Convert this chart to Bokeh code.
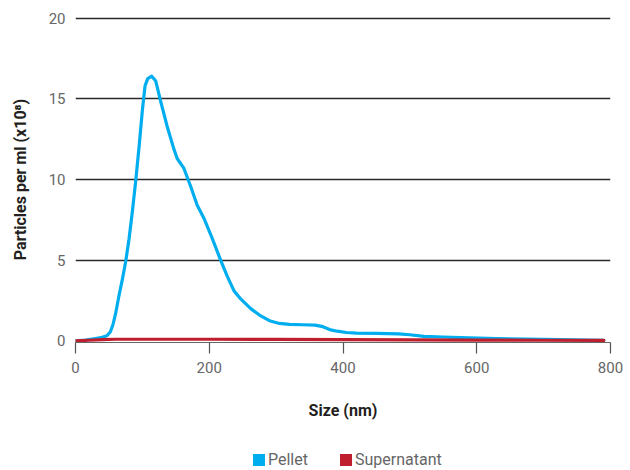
from bokeh.plotting import figure
from bokeh.layouts import column
from bokeh.models import Range1d, FixedTicker, Legend, LegendItem
from bokeh.embed import file_html
from bokeh.resources import INLINE

# ---- data ----
size_pellet = [0, 15, 30, 40, 47, 52, 56, 60, 65, 70, 75, 80, 85, 90, 95, 100, 104, 108,
               114, 120, 127, 137, 147, 152, 162, 172, 182, 192, 204, 217, 227, 237, 247,
               262, 275, 290, 305, 320, 340, 358, 370, 380, 391, 405, 420, 450, 483, 500,
               521, 550, 576, 630, 700, 790]
pellet = [0, 0.05, 0.15, 0.22, 0.32, 0.55, 1.0, 1.7, 2.8, 3.8, 4.9, 6.3, 8.0, 9.9, 12.0,
          14.3, 15.8, 16.25, 16.4, 16.1, 14.9, 13.3, 11.9, 11.3, 10.7, 9.6, 8.4, 7.6, 6.4,
          5.0, 4.0, 3.1, 2.6, 2.0, 1.6, 1.25, 1.08, 1.02, 1.0, 0.98, 0.88, 0.7, 0.6, 0.52,
          0.48, 0.46, 0.44, 0.38, 0.28, 0.24, 0.2, 0.14, 0.09, 0.04]
size_super = [0, 20, 40, 60, 100, 200, 300, 400, 500, 600, 700, 790]
supernatant = [0, 0.04, 0.08, 0.1, 0.1, 0.1, 0.09, 0.08, 0.06, 0.05, 0.04, 0.03]
x_ticks = [0, 200, 400, 600, 800]
y_ticks = [0, 5, 10, 15, 20]
series_names = ["Pellet", "Supernatant"]
series_colors = ["#00aeef", "#be1e2d"]

FONT = "Roboto"
NAN = float("nan")

p = figure(width=630, height=440, output_backend="svg", toolbar_location=None,
           x_range=Range1d(0, 800), y_range=Range1d(-0.1, 20.1),
           min_border_left=75, min_border_right=20, min_border_top=16,
           min_border_bottom=98)
p.outline_line_color = None
p.background_fill_color = "white"
p.border_fill_color = "white"

p.xgrid.visible = False
p.ygrid.ticker = FixedTicker(ticks=y_ticks[1:])
p.ygrid.grid_line_color = "#2b2b2b"
p.ygrid.grid_line_width = 1.4

# x axis
p.xaxis.ticker = FixedTicker(ticks=x_ticks)
p.xaxis.axis_label = "Size (nm)"
p.xaxis.axis_line_color = "#666666"
p.xaxis.axis_line_width = 1.2
p.xaxis.major_tick_line_color = "#555555"
p.xaxis.major_tick_line_width = 1.2
p.xaxis.major_tick_in = 0
p.xaxis.major_tick_out = 11
p.xaxis.minor_tick_line_color = None
p.xaxis.major_label_standoff = 8
p.xaxis.axis_label_standoff = 25

# y axis
p.yaxis.ticker = FixedTicker(ticks=y_ticks)
p.yaxis.axis_label = "Particles per ml (x10\u2078)"
p.yaxis.axis_line_color = None
p.yaxis.major_tick_line_color = None
p.yaxis.minor_tick_line_color = None
p.yaxis.major_tick_in = 0
p.yaxis.major_tick_out = 0
p.yaxis.major_label_standoff = 10
p.yaxis.axis_label_standoff = 16

for ax in (p.xaxis, p.yaxis):
    ax.major_label_text_font = FONT
    ax.major_label_text_font_size = "15px"
    ax.major_label_text_color = "#666666"
    ax.axis_label_text_font = FONT
    ax.axis_label_text_font_size = "16px"
    ax.axis_label_text_font_style = "bold"
    ax.axis_label_text_color = "#231f20"

# series lines
p.line(size_pellet, pellet, line_color=series_colors[0], line_width=3.2,
       line_join="round", line_cap="round")
p.line(size_super, supernatant, line_color=series_colors[1], line_width=3.2,
       line_join="round", line_cap="round")

# legend strip below the chart
pl = figure(width=630, height=30, output_backend="svg", toolbar_location=None,
            x_range=Range1d(0, 1), y_range=Range1d(0, 1),
            x_axis_location=None, y_axis_location=None,
            min_border_left=0, min_border_right=0, min_border_top=0, min_border_bottom=0)
pl.outline_line_color = None
pl.xgrid.visible = False
pl.ygrid.visible = False
proxies = [pl.quad(left=[NAN], right=[NAN], top=[NAN], bottom=[NAN],
                   fill_color=c, line_color=None)
           for c in series_colors]
legend = Legend(items=[LegendItem(label=n, renderers=[r]) for n, r in zip(series_names, proxies)],
                orientation="horizontal", location=(176, 1), padding=0, spacing=30,
                label_standoff=2, glyph_width=15, glyph_height=15, label_height=15,
                border_line_color=None, background_fill_alpha=0, margin=0,
                label_text_font=FONT, label_text_font_size="16px",
                label_text_color="#666666")
pl.add_layout(legend, "center")

layout = column(p, pl, spacing=0)
open("out.html", "w").write(file_html(layout, INLINE))
